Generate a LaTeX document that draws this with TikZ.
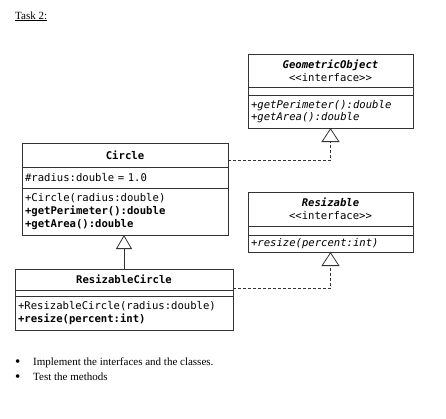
\documentclass[tikz,border=0pt]{standalone}
\usepackage{fontspec}
\setmainfont{Liberation Serif}
\newfontfamily\umlmono{DejaVu Sans Mono}
\usetikzlibrary{arrows.meta,positioning}
\tikzset{
	umlpart/.style={
		draw=black!80,
		line width=0.8pt,
		outer sep=0pt,
		inner xsep=3pt,
		inner ysep=1pt,
		text width=#1,
		align=left,
		font=\umlmono\fontsize{10.6}{12.8}\selectfont
	},
	umltitle/.style={
		umlpart=#1,
		align=center
	},
	plaintext/.style={
		anchor=base west,
		inner sep=0pt,
		font=\fontsize{11}{13}\selectfont
	},
	bullet/.style={
		plaintext,
		font=\fontsize{15}{15}\selectfont
	},
	realize/.style={
		draw=black!80,
		line width=0.8pt,
		dash pattern=on 3pt off 2pt,
		-{Triangle[open,length=14pt,width=18pt]}
	},
	inherit/.style={
		draw=black!80,
		line width=0.8pt,
		-{Triangle[open,length=14pt,width=16pt]}
	}
}

\begin{document}
\begin{tikzpicture}[x=1pt,y=1pt]
	\useasboundingbox (0,0) rectangle (446,-418);
	\node[plaintext] (task) at (15,-19) {\underline{Task 2:}};

	% interface GeometricObject
	\node[umltitle=159pt, minimum height=33pt, anchor=north west] (go1) at (248,-54)
		{\textbf{\textit{GeometricObject}}\\<<interface>>};
	\node[umlpart=159pt, minimum height=8pt, below=0pt of go1] (go2) {};
	\node[umlpart=159pt, minimum height=33pt, below=0pt of go2] (go3)
		{\textit{+getPerimeter():double}\\\textit{+getArea():double}};

	% class Circle
	\node[umltitle=200pt, minimum height=24pt, anchor=north west] (ci1) at (22,-143)
		{\textbf{Circle}};
	\node[umlpart=200pt, minimum height=21pt, below=0pt of ci1] (ci2)
		{\#radius:double = 1.0};
	\node[umlpart=200pt, minimum height=47pt, below=0pt of ci2] (ci3)
		{+Circle(radius:double)\\\textbf{+getPerimeter():double}\\\textbf{+getArea():double}};

	% interface Resizable
	\node[umltitle=159pt, minimum height=34pt, anchor=north west] (rs1) at (248,-192)
		{\textbf{\textit{Resizable}}\\<<interface>>};
	\node[umlpart=159pt, minimum height=9pt, below=0pt of rs1] (rs2) {};
	\node[umlpart=159pt, minimum height=17pt, below=0pt of rs2] (rs3)
		{\textit{+resize(percent:int)}};

	% class ResizableCircle
	\node[umltitle=212pt, minimum height=21pt, anchor=north west] (rc1) at (15,-269)
		{\textbf{ResizableCircle}};
	\node[umlpart=212pt, minimum height=6pt, below=0pt of rc1] (rc2) {};
	\node[umlpart=212pt, minimum height=34pt, below=0pt of rc2] (rc3)
		{+ResizableCircle(radius:double)\\\textbf{+resize(percent:int)}};

	% relations
	\coordinate (cjoin) at (go3.south |- 0,-160);
	\coordinate (rjoin) at (rs3.south |- 0,-288);
	\draw[realize] (ci1.east |- cjoin) -- (cjoin) -- (go3.south);
	\draw[realize] (rc1.east |- rjoin) -- (rjoin) -- (rs3.south);
	\draw[inherit] (rc1.north) -- (rc1.north |- ci3.south);

	% tasks
	\node[bullet] (dot1) at (15,-366) {\textbullet};
	\node[plaintext] (item1) at (33,-365) {Implement the interfaces and the classes.};
	\node[bullet] (dot2) at (15,-381) {\textbullet};
	\node[plaintext] (item2) at (33,-380) {Test the methods};
\end{tikzpicture}
\end{document}
